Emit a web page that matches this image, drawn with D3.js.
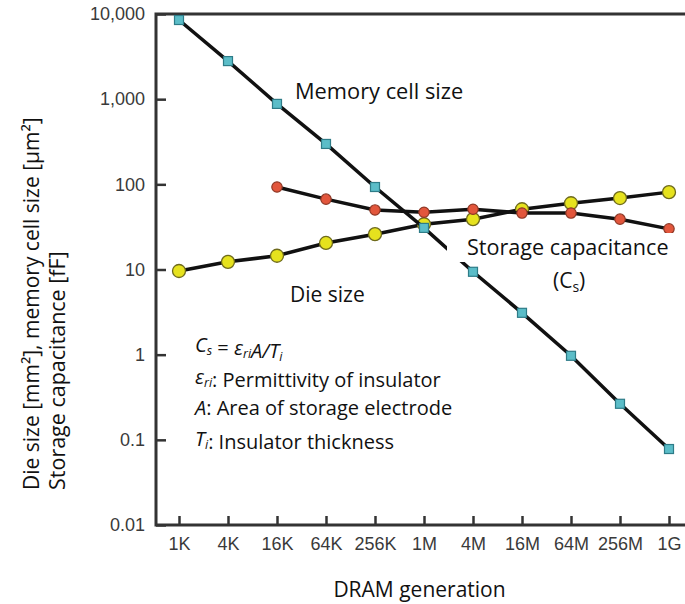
<!DOCTYPE html>
<html lang="en">
<head>
    <meta charset="UTF-8">
    <title>DRAM scaling trends</title>
    <script src="https://cdnjs.cloudflare.com/ajax/libs/d3/7.8.5/d3.min.js"></script>
    <style>
        body {
            margin: 0;
            background-color: #ffffff;
        }
        svg {
            display: block;
        }
        .tick text {
            font-family: "Liberation Sans", Arial, sans-serif;
            font-size: 18px;
            fill: #3a3a3a;
        }
        .label {
            font-family: "Open Sans", sans-serif;
            fill: #111;
        }
    </style>
</head>
<body>
    <svg width="685" height="604"></svg>
    <script>
// DRAM generations along the x axis
const generations = ["1K", "4K", "16K", "64K", "256K", "1M", "4M", "16M", "64M", "256M", "1G"];

// memory cell size [um^2]
const memoryCellSize = [8500, 2800, 880, 298, 93, 30.8, 9.4, 3.1, 0.97, 0.265, 0.078];

// storage capacitance [fF], starts at 16K
const storageGens = ["16K", "64K", "256K", "1M", "4M", "16M", "64M", "256M", "1G"];
const storageCapacitance = [93, 67, 50, 47, 51, 46, 46, 39, 30];

// die size [mm^2]
const dieSize = [9.6, 12.3, 14.5, 20.5, 26, 34, 39, 51, 60, 69, 81];

const yTicks = [0.01, 0.1, 1, 10, 100, 1000, 10000];
const yTickLabels = ["0.01", "0.1", "1", "10", "100", "1,000", "10,000"];

const svg = d3.select("svg");

const plotLeft = 156, plotRight = 685, plotTop = 14, plotBottom = 525;

const x = d3.scalePoint()
    .domain(generations)
    .range([179, 669]);

const y = d3.scaleLog()
    .domain([0.01, 10000])
    .range([plotBottom, plotTop]);

// axes (ticks point inwards)
const yAxis = d3.axisLeft(y)
    .tickValues(yTicks)
    .tickFormat((d, i) => yTickLabels[i])
    .tickSizeInner(-10)
    .tickSizeOuter(0)
    .tickPadding(11);

const xAxis = d3.axisBottom(x)
    .tickSizeInner(-9)
    .tickSizeOuter(0)
    .tickPadding(12);

const gy = svg.append("g")
    .attr("transform", `translate(${plotLeft},0)`)
    .call(yAxis);

const gx = svg.append("g")
    .attr("transform", `translate(0,${plotBottom})`)
    .call(xAxis);

[gx, gy].forEach(g => {
    g.select(".domain").remove();
    g.selectAll(".tick line").attr("stroke", "#333").attr("stroke-width", 2.5);
});

// frame: left, top and bottom only
svg.append("path")
    .attr("d", `M${plotRight},${plotTop}H${plotLeft}V${plotBottom}H${plotRight}`)
    .attr("fill", "none")
    .attr("stroke", "#333")
    .attr("stroke-width", 3);

const line = d3.line()
    .x(d => x(d.g))
    .y(d => y(d.v));

const dieData = generations.map((g, i) => ({ g: g, v: dieSize[i] }));
const capData = storageGens.map((g, i) => ({ g: g, v: storageCapacitance[i] }));
const memData = generations.map((g, i) => ({ g: g, v: memoryCellSize[i] }));

// die size
svg.append("path")
    .datum(dieData)
    .attr("d", line)
    .attr("fill", "none")
    .attr("stroke", "#111")
    .attr("stroke-width", 3.5);

svg.selectAll(".die")
    .data(dieData)
    .enter().append("circle")
    .attr("class", "die")
    .attr("cx", d => x(d.g))
    .attr("cy", d => y(d.v))
    .attr("r", 6.5)
    .attr("fill", "#e6e21e")
    .attr("stroke", "#6e6a1c")
    .attr("stroke-width", 1.3);

// storage capacitance
svg.append("path")
    .datum(capData)
    .attr("d", line)
    .attr("fill", "none")
    .attr("stroke", "#111")
    .attr("stroke-width", 3.5);

svg.selectAll(".cap")
    .data(capData)
    .enter().append("circle")
    .attr("class", "cap")
    .attr("cx", d => x(d.g))
    .attr("cy", d => y(d.v))
    .attr("r", 5.2)
    .attr("fill", "#e2563c")
    .attr("stroke", "#8e3826")
    .attr("stroke-width", 1.2);

// memory cell size
svg.append("path")
    .datum(memData)
    .attr("d", line)
    .attr("fill", "none")
    .attr("stroke", "#111")
    .attr("stroke-width", 3.5);

svg.selectAll(".mem")
    .data(memData)
    .enter().append("rect")
    .attr("class", "mem")
    .attr("x", d => x(d.g) - 4.5)
    .attr("y", d => y(d.v) - 4.5)
    .attr("width", 9)
    .attr("height", 9)
    .attr("fill", "#5bbdc8")
    .attr("stroke", "#2e7c88")
    .attr("stroke-width", 1.2);

// series labels (white box under the storage label, as in the source figure)
svg.append("rect")
    .attr("x", 447).attr("y", 233)
    .attr("width", 232).attr("height", 29)
    .attr("fill", "#fff");

svg.append("text").attr("class", "label")
    .attr("x", 295).attr("y", 99)
    .style("font-size", "21.8px")
    .text("Memory cell size");

svg.append("text").attr("class", "label")
    .attr("x", 467).attr("y", 255)
    .style("font-size", "21.6px")
    .text("Storage capacitance");

const cs = svg.append("text").attr("class", "label")
    .attr("x", 553).attr("y", 288)
    .style("font-size", "21px");
cs.append("tspan").text("(C");
cs.append("tspan").attr("dy", 4).style("font-size", "14px").text("s");
cs.append("tspan").attr("dy", -4).text(")");

svg.append("text").attr("class", "label")
    .attr("x", 290).attr("y", 302)
    .style("font-size", "21px")
    .text("Die size");

// formula block
const fx = 195, fs = 20;
function sub(t, s, italic) {
    t.append("tspan").attr("dy", 3).style("font-size", "12.5px")
        .style("font-style", italic ? "italic" : null).text(s);
    t.append("tspan").attr("dy", -3).text("");
}

const f1 = svg.append("text").attr("class", "label").attr("x", fx).attr("y", 352).style("font-size", fs + "px");
f1.append("tspan").style("font-style", "italic").text("C");
sub(f1, "s", true);
f1.append("tspan").text(" = ");
f1.append("tspan").style("font-style", "italic").text("ε");
sub(f1, "ri", true);
f1.append("tspan").style("font-style", "italic").text("A/T");
sub(f1, "i", true);

const f2 = svg.append("text").attr("class", "label").attr("x", fx).attr("y", 384).style("font-size", fs + "px");
f2.append("tspan").style("font-style", "italic").text("ε");
sub(f2, "ri", true);
f2.append("tspan").text(": Permittivity of insulator");

const f3 = svg.append("text").attr("class", "label").attr("x", fx).attr("y", 415).style("font-size", fs + "px");
f3.append("tspan").style("font-style", "italic").text("A");
f3.append("tspan").text(": Area of storage electrode");

const f4 = svg.append("text").attr("class", "label").attr("x", fx).attr("y", 446).style("font-size", fs + "px");
f4.append("tspan").style("font-style", "italic").text("T");
sub(f4, "i", true);
f4.append("tspan").text(": Insulator thickness");

// axis titles
svg.append("text").attr("class", "label")
    .attr("x", (plotLeft + plotRight) / 2 - 1).attr("y", 597)
    .attr("text-anchor", "middle")
    .style("font-size", "21px")
    .text("DRAM generation");

svg.append("text").attr("class", "label")
    .attr("transform", "translate(39,490) rotate(-90)")
    .style("font-size", "21px")
    .text("Die size [mm²], memory cell size [μm²]");

svg.append("text").attr("class", "label")
    .attr("transform", "translate(65,490) rotate(-90)")
    .style("font-size", "21.5px")
    .text("Storage capacitance [fF]");
    </script>
</body>
</html>
